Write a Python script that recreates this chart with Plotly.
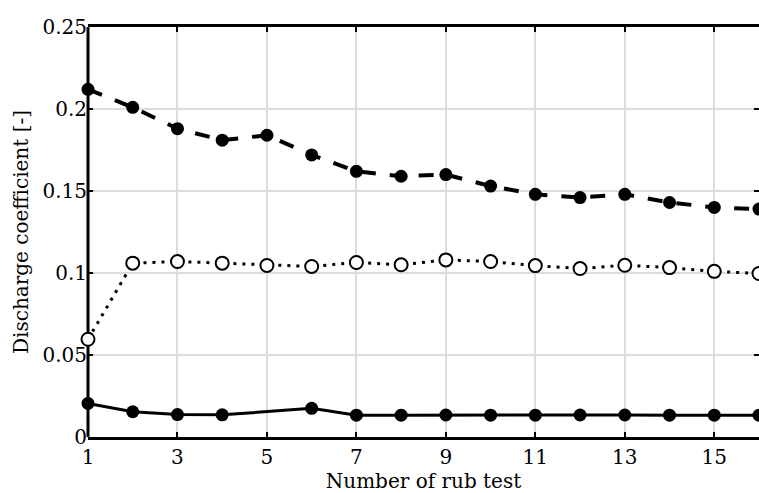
import plotly.graph_objects as go

rub_test = list(range(1, 17))
dashed_vals = [0.212, 0.201, 0.188, 0.181, 0.184, 0.172, 0.162, 0.159, 0.160, 0.153,
               0.148, 0.146, 0.148, 0.143, 0.140, 0.139]
dotted_vals = [0.0596, 0.106, 0.107, 0.106, 0.1046, 0.104, 0.1064, 0.105, 0.108, 0.107,
               0.1045, 0.1027, 0.1047, 0.1033, 0.101, 0.0997]
solid_x = [1, 2, 3, 4, 6, 7, 8, 9, 10, 11, 12, 13, 14, 15, 16]
solid_vals = [0.0205, 0.0154, 0.0137, 0.0135, 0.0175, 0.0133, 0.0133, 0.0134, 0.0133, 0.0133,
              0.0134, 0.0134, 0.0133, 0.0133, 0.0133]

x_ticks = [1, 3, 5, 7, 9, 11, 13, 15]
x_title = "Number of rub test"
y_title = "Discharge coefficient [-]"

FONT = "DejaVu Serif"

fig = go.Figure()
fig.add_trace(go.Scatter(
    x=rub_test, y=dashed_vals, mode="lines+markers", cliponaxis=False,
    line=dict(color="black", width=4, dash="15px,14px"),
    marker=dict(symbol="circle", size=13, color="black"),
    showlegend=False))
fig.add_trace(go.Scatter(
    x=rub_test, y=dotted_vals, mode="lines+markers", cliponaxis=False,
    line=dict(color="black", width=3, dash="3px,6px"),
    marker=dict(symbol="circle", size=13, color="white", line=dict(color="black", width=2)),
    showlegend=False))
fig.add_trace(go.Scatter(
    x=solid_x, y=solid_vals, mode="lines+markers", cliponaxis=False,
    line=dict(color="black", width=3),
    marker=dict(symbol="circle", size=13, color="black"),
    showlegend=False))

fig.add_shape(type="line", xref="paper", yref="paper", x0=0, x1=0, y0=0, y1=1,
              line=dict(color="black", width=3), layer="between")

fig.update_layout(
    width=759, height=493,
    margin=dict(l=88, r=0, t=27, b=56),
    paper_bgcolor="white", plot_bgcolor="white",
    font=dict(family=FONT, size=20, color="black"),
    xaxis=dict(
        range=[1, 16], tickmode="array", tickvals=x_ticks,
        showgrid=True, gridcolor="#dcdcdc", gridwidth=1.5, zeroline=False,
        showline=True, linecolor="black", linewidth=3, mirror="ticks",
        ticks="inside", ticklen=5, tickwidth=2, tickcolor="black",
        title=dict(text=x_title, standoff=2, font=dict(size=20)),
        layer="below traces"),
    yaxis=dict(
        range=[0, 0.25], tickmode="linear", tick0=0, dtick=0.05,
        showgrid=True, gridcolor="#dcdcdc", gridwidth=1.5, zeroline=False,
        showline=False, mirror="ticks",
        ticks="inside", ticklen=5, tickwidth=2, tickcolor="black",
        title=dict(text=y_title, standoff=8, font=dict(size=20)),
        layer="below traces"),
)

fig.write_html("out.html")
